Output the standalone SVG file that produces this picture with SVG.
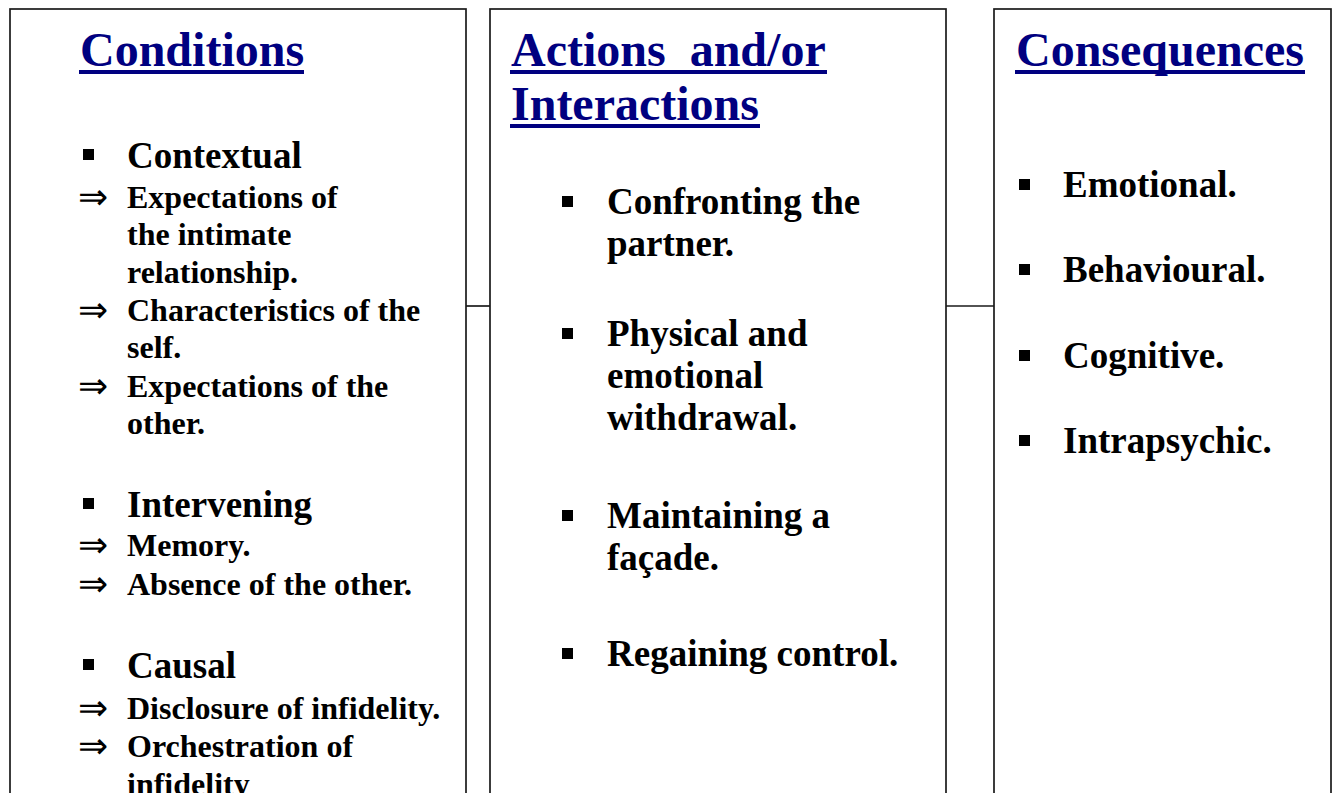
<svg xmlns="http://www.w3.org/2000/svg" width="1336" height="793" viewBox="0 0 1336 793">
<style>
.box{fill:#fff;stroke:#1a1a1a;stroke-width:1.7}
.title{font-family:"Liberation Serif","Times New Roman",serif;font-weight:bold;font-size:48px;fill:#000080}
.ul{fill:#000080}
.h{font-family:"Liberation Serif","Times New Roman",serif;font-weight:bold;font-size:37px;fill:#000}
.s{font-family:"Liberation Serif","Times New Roman",serif;font-weight:bold;font-size:32px;fill:#000}
.arr{font-family:"DejaVu Sans ExtraLight","DejaVu Sans",sans-serif;font-weight:200;font-size:36px;fill:#000}
.b{fill:#000}
.conn{stroke:#1a1a1a;stroke-width:1.7;fill:none}
</style>
<rect width="1336" height="793" fill="#fff"/>
<g id="connectors">
<line class="conn" x1="466" y1="306" x2="490" y2="306"/>
<line class="conn" x1="946" y1="306" x2="994" y2="306"/>
</g>
<g id="conditions">
<rect class="box" x="10" y="9" width="456" height="800"/>
<text class="title" x="80" y="66">Conditions</text>
<rect class="ul" x="79" y="70" width="225" height="4"/>
<rect class="b" x="83" y="149" width="11" height="11"/>
<text class="h" x="127" y="168">Contextual</text>
<text class="arr" x="78" y="209">⇒</text>
<text class="s" x="127" y="208">Expectations of</text>
<text class="s" x="127" y="245">the intimate</text>
<text class="s" x="127" y="283">relationship.</text>
<text class="arr" x="78" y="322">⇒</text>
<text class="s" x="127" y="321">Characteristics of the</text>
<text class="s" x="127" y="358">self.</text>
<text class="arr" x="78" y="398">⇒</text>
<text class="s" x="127" y="397">Expectations of the</text>
<text class="s" x="127" y="434">other.</text>
<rect class="b" x="83" y="498" width="11" height="11"/>
<text class="h" x="127" y="517">Intervening</text>
<text class="arr" x="78" y="557">⇒</text>
<text class="s" x="127" y="556">Memory.</text>
<text class="arr" x="78" y="596">⇒</text>
<text class="s" x="127" y="595">Absence of the other.</text>
<rect class="b" x="83" y="659" width="11" height="11"/>
<text class="h" x="127" y="678">Causal</text>
<text class="arr" x="78" y="720">⇒</text>
<text class="s" x="127" y="719">Disclosure of infidelity.</text>
<text class="arr" x="78" y="758">⇒</text>
<text class="s" x="127" y="757">Orchestration of</text>
<text class="s" x="127" y="795">infidelity</text>
</g>
<g id="actions">
<rect class="box" x="490" y="9" width="456" height="800"/>
<text class="title" x="511" y="66" xml:space="preserve">Actions  and/or</text>
<rect class="ul" x="510" y="70" width="317" height="4"/>
<text class="title" x="511" y="120">Interactions</text>
<rect class="ul" x="510" y="124" width="250" height="4"/>
<rect class="b" x="562" y="196" width="11" height="11"/>
<text class="h" x="607" y="214">Confronting the</text>
<text class="h" x="607" y="256">partner.</text>
<rect class="b" x="562" y="328" width="11" height="11"/>
<text class="h" x="607" y="346">Physical and</text>
<text class="h" x="607" y="388">emotional</text>
<text class="h" x="607" y="430">withdrawal.</text>
<rect class="b" x="562" y="510" width="11" height="11"/>
<text class="h" x="607" y="528">Maintaining a</text>
<text class="h" x="607" y="570">façade.</text>
<rect class="b" x="562" y="648" width="11" height="11"/>
<text class="h" x="607" y="666">Regaining control.</text>
</g>
<g id="consequences">
<rect class="box" x="994" y="9" width="337" height="800"/>
<text class="title" x="1016" y="66">Consequences</text>
<rect class="ul" x="1015" y="70" width="290" height="4"/>
<rect class="b" x="1019" y="179" width="11" height="11"/>
<text class="h" x="1063" y="197">Emotional.</text>
<rect class="b" x="1019" y="264" width="11" height="11"/>
<text class="h" x="1063" y="282">Behavioural.</text>
<rect class="b" x="1019" y="350" width="11" height="11"/>
<text class="h" x="1063" y="368">Cognitive.</text>
<rect class="b" x="1019" y="435" width="11" height="11"/>
<text class="h" x="1063" y="453">Intrapsychic.</text>
</g>
</svg>
